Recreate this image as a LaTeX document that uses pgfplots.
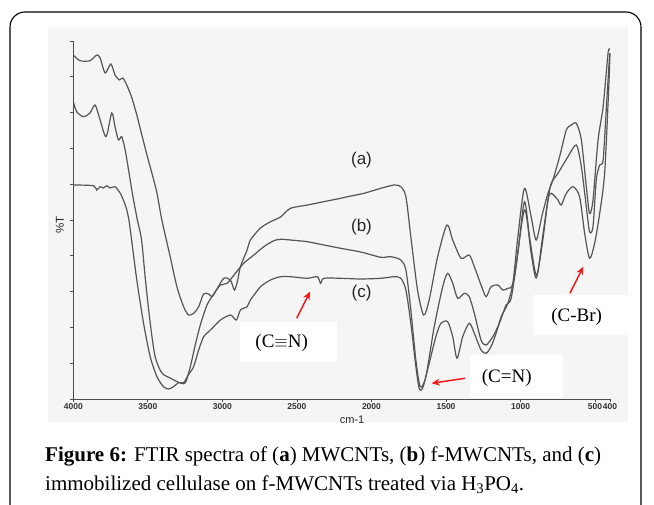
\documentclass[border=0pt]{standalone}
\usepackage{fontspec}
\setmainfont{Liberation Serif}
\setsansfont{Liberation Sans}
\usepackage{pgfplots}
\pgfplotsset{compat=1.18}
\usetikzlibrary{arrows.meta}
\definecolor{curve}{HTML}{555555}
\definecolor{bg}{HTML}{F5F5F5}
\definecolor{arrowred}{HTML}{F01818}
\begin{document}
\begin{tikzpicture}[x=1pt,y=1pt]
\useasboundingbox (0,0) rectangle (654,504);
\clip (0,0) rectangle (654,504);
% outer frame
\draw[line width=1.1pt, rounded corners=15pt] (10,-30) -- (10,492) -- (641,492) -- (641,-30);
% chart background
\fill[bg] (48,477) rectangle (628,82);
% white boxes behind annotations
\fill[white] (240,182) rectangle (337,142);
\fill[white] (470,149) rectangle (563,106);
\fill[white] (533,209) rectangle (630,169);
\begin{axis}[
  scale only axis, width=536.7pt, height=358pt,
  at={(73.3pt,105pt)}, anchor=south west,
  x dir=reverse, xmin=400, xmax=4000, ymin=0, ymax=358,
  axis x line=bottom, axis y line=left,
  axis line style={-, draw=black!70, line width=0.9pt},
  xtick={4000,3500,3000,2500,2000,1500,1000,500,400},
  ytick={0,35.8,71.6,107.4,143.2,179,214.8,250.6,286.4,322.2,358},
  yticklabels={},
  tick style={draw=black!70, line width=0.7pt},
  tick align=outside, major tick length=3pt,
  x tick label style={font=\sffamily\bfseries\fontsize{8.5}{9}\selectfont, text=black!80, inner sep=1.5pt},
  /pgf/number format/assume math mode=true,
  /pgf/number format/1000 sep={},
  clip=false,
]
\addplot[curve, line width=1.2pt, smooth, tension=0.45] coordinates {
(4000,344) (3955,338.3) (3888,338.3) (3843,344) (3820,341) (3786,326) (3748,335) (3720,324) (3691,319) (3668,321) (3641,314) (3607,301) (3574,284) (3540,264) (3506,244) (3473,226) (3439,206) (3406,179) (3350,142.3) (3305,112.3) (3260,92.3) (3227,84) (3193,85.7) (3159,92.3) (3126,105) (3092,105) (3069,102.3) (3040,109) (2991,120.7) (2946,119) (2919,109) (2897,119) (2879,132.3) (2834,149) (2812,159) (2744,171) (2677,177.3) (2610,182) (2543,190.7) (2428,194) (2321,197.3) (2206,200.7) (2161,202.3) (2050,205.7) (1937,210.7) (1848,214) (1803,212.3) (1769,202.3) (1736,162.3) (1691,109) (1650,84) (1613,99) (1556,142.3) (1494,174) (1455,159) (1399,140.7) (1344,144) (1310,132.3) (1265,114) (1231,102.3) (1198,112.3) (1153,114) (1119,109) (1085,110.7) (1052,115.7) (1018,162.3) (974,210.7) (929,182.3) (895,159) (855,184) (816,205.7) (783,219) (738,242.3) (693,269) (660,274) (626,275.7) (592,259) (559,212.3) (537,185.7) (514,199) (480,259) (446,292.3) (413,345.7) (402,349)
};
\addplot[curve, line width=1.2pt, smooth, tension=0.45] coordinates {
(4000,297.3) (3977,287.3) (3933,282.3) (3888,286) (3854,294) (3820,279) (3780,262.3) (3742,286) (3720,272.3) (3697,259) (3675,262.3) (3652,249) (3626,226) (3600,202.3) (3570,179) (3542,159) (3516,119) (3484,76) (3451,42.3) (3406,26) (3350,21) (3303,17.3) (3250,16) (3215,32.3) (3182,54) (3148,74) (3103,94) (3058,105) (3013,114) (2968,115.7) (2913,125.7) (2857,135.7) (2789,144) (2722,152.3) (2655,158.3) (2610,159.7) (2543,159) (2430,157.3) (2319,154) (2206,150.7) (2072,147) (1937,141.7) (1870,142.3) (1803,139) (1769,129) (1736,89) (1702,39) (1673,12.3) (1635,22.3) (1579,72.3) (1522,112.3) (1489,125.7) (1455,115.7) (1422,100.7) (1377,105.7) (1344,102.3) (1310,85.7) (1265,59) (1231,54) (1186,62.3) (1142,75.7) (1097,94) (1063,100.7) (1018,145.7) (974,197.3) (940,162.3) (902,127) (884,127) (855,159) (816,199) (794,215.7) (749,225.7) (682,242.3) (626,254) (592,232.3) (559,192.3) (537,167.3) (514,172.3) (492,219) (469,234) (446,239) (424,292.3) (402,345.7)
};
\addplot[curve, line width=1.2pt, smooth, tension=0.45] coordinates {
(4000,214) (3865,213.3) (3843,209) (3820,212.3) (3798,211) (3775,213.3) (3753,211) (3720,212.3) (3686,206) (3664,199) (3641,189) (3622,174) (3574,119) (3529,76) (3484,42.3) (3439,22.3) (3395,12.3) (3361,10) (3328,12.3) (3294,16.3) (3260,16.3) (3229,24) (3193,32.3) (3159,49) (3126,62.3) (3092,67.3) (3058,72.3) (3013,79) (2946,84) (2906,79) (2879,89) (2834,92.3) (2812,99) (2744,112.3) (2677,119) (2610,122.3) (2543,122.3) (2430,120.7) (2363,122.3) (2341,115.7) (2319,120.7) (2206,120.7) (2072,120) (1937,120.7) (1848,122.3) (1803,120.7) (1769,109) (1736,75.7) (1702,32.3) (1680,10.7) (1657,10.7) (1624,29) (1568,62.3) (1534,75.7) (1489,77.3) (1455,62.3) (1426,40.7) (1388,62.3) (1344,75.7) (1310,65.7) (1265,49) (1231,45.7) (1198,52.3) (1164,65.7) (1130,82.3) (1085,95.7) (1041,122.3) (974,189) (929,145.7) (895,121) (855,154) (816,199) (794,205.7) (749,199) (727,194) (693,205.7) (648,212.3) (604,202.3) (570,165.7) (537,140.7) (503,155.7) (469,185.7) (436,225.7) (409,309) (400,345.7)
};
\end{axis}
% axis labels
\node[font=\sffamily\fontsize{11}{12}\selectfont, text=black!85] at (352,84) {cm-1};
\node[font=\sffamily\fontsize{11.5}{12}\selectfont, text=black!85, rotate=90] at (60,279) {\%T};
% curve labels
\node[font=\sffamily\fontsize{17}{19}\selectfont, text=black!85] at (361.5,344) {(a)};
\node[font=\sffamily\fontsize{17}{19}\selectfont, text=black!85] at (361.5,277) {(b)};
\node[font=\sffamily\fontsize{17}{19}\selectfont, text=black!85] at (361.5,211) {(c)};
% annotations
\node[font=\fontsize{19}{21}\selectfont] at (281.7,160.7) {(C$\equiv$N)};
\node[font=\fontsize{19}{21}\selectfont] at (506.7,126.5) {(C=N)};
\node[font=\fontsize{19}{21}\selectfont] at (576.7,187.3) {(C-Br)};
\draw[arrowred, line width=1.5pt, -{Stealth[length=8pt,width=7pt]}] (296.7,185.7) -- (310,212.3);
\draw[arrowred, line width=1.5pt, -{Stealth[length=8pt,width=7pt]}] (465,125.7) -- (431.7,120.7);
\draw[arrowred, line width=1.5pt, -{Stealth[length=8pt,width=7pt]}] (570,210.7) -- (583.3,237.3);
% caption
\node[anchor=base west, inner sep=0pt, font=\fontsize{21}{24}\selectfont] at (45,42) {\textbf{Figure 6:} FTIR spectra of (\textbf{a}) MWCNTs, (\textbf{b}) f-MWCNTs, and (\textbf{c})};
\node[anchor=base west, inner sep=0pt, font=\fontsize{21}{24}\selectfont] at (45,14) {immobilized cellulase on f-MWCNTs treated via H\textsubscript{3}PO\textsubscript{4}.};
\end{tikzpicture}
\end{document}
